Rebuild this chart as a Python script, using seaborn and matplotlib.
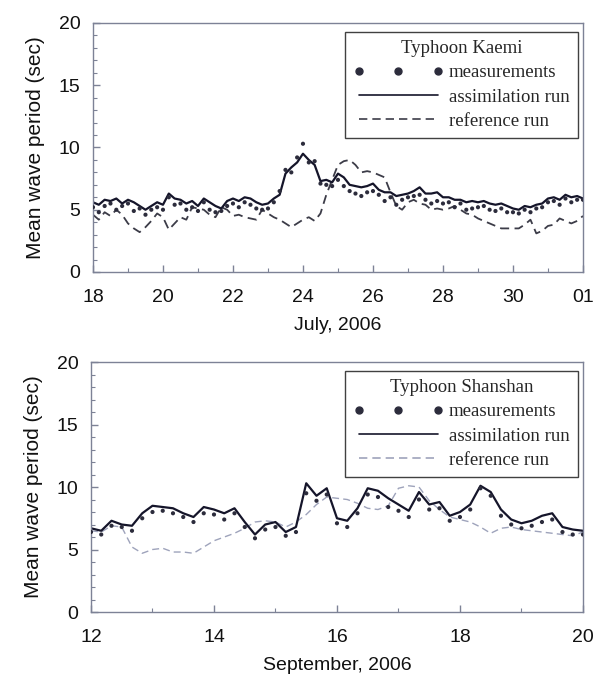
import numpy as np
import pandas as pd
import matplotlib
matplotlib.use("Agg")
import matplotlib.pyplot as plt
import seaborn as sns
from matplotlib.lines import Line2D
from matplotlib.ticker import MultipleLocator

# ---------------- data (4-hourly samples) ----------------
# Typhoon Kaemi, 18 July 00h .. 01 August 00h 2006
kaemi_start, kaemi_end, kaemi_per_day = 18, 32, 6
kaemi_assim = [
    5.6, 5.4, 5.8, 5.7, 5.9, 5.5,
    5.8, 5.6, 5.3, 5.0, 5.3, 5.6,
    5.4, 6.3, 5.9, 5.8, 5.5, 5.7,
    5.3, 5.9, 5.6, 5.3, 5.1, 5.7,
    5.9, 5.7, 6.0, 5.9, 5.6, 5.4,
    5.5, 5.9, 6.2, 7.9, 8.4, 8.8,
    9.5, 9.0, 8.6, 7.3, 7.4, 7.2,
    7.9, 7.6, 7.0, 6.9, 6.8, 6.9,
    7.1, 6.6, 6.4, 6.4, 6.1, 6.2,
    6.3, 6.5, 6.8, 6.3, 6.3, 6.4,
    6.0, 6.0, 5.8, 5.8, 5.6, 5.7,
    5.6, 5.7, 5.5, 5.4, 5.5, 5.3,
    5.1, 5.0, 5.3, 5.2, 5.4, 5.5,
    5.9, 6.0, 5.8, 6.2, 6.0, 6.1,
    5.9]
kaemi_meas = [
    5.2, 4.8, 5.3, 5.5, 5.0, 5.3,
    5.5, 4.9, 5.1, 4.6, 5.0, 5.2,
    5.0, 6.0, 5.4, 5.5, 5.0, 5.2,
    4.9, 5.6, 5.0, 4.8, 4.9, 5.3,
    5.5, 5.2, 5.6, 5.4, 5.1, 5.0,
    5.1, 5.6, 6.5, 8.2, 8.0, 9.2,
    10.3, 8.8, 8.9, 7.1, 7.0, 6.9,
    7.4, 6.9, 6.5, 6.3, 6.1, 6.4,
    6.5, 6.2, 5.7, 6.0, 5.4, 5.8,
    6.0, 6.1, 6.2, 5.8, 5.5, 5.7,
    5.5, 5.6, 5.2, 5.5, 5.0, 5.1,
    5.2, 5.3, 5.0, 4.9, 5.1, 4.8,
    4.8, 4.7, 5.0, 4.8, 5.1, 5.2,
    5.6, 5.7, 5.4, 5.9, 5.6, 5.8,
    5.8]
kaemi_ref = [
    4.6, 4.2, 4.8, 4.5, 5.0, 4.6,
    3.9, 3.5, 3.2, 3.6, 4.1, 4.7,
    4.4, 3.4, 3.9, 4.4, 4.2, 5.2,
    5.1, 5.0, 4.6, 4.4, 5.2, 5.0,
    4.5, 4.6, 4.4, 4.3, 4.2, 5.0,
    4.7, 4.4, 4.2, 3.9, 3.6, 3.9,
    4.2, 4.4, 4.1, 4.7, 6.2, 7.4,
    8.6, 8.9, 9.0, 8.6, 8.0, 8.1,
    8.0, 7.8, 7.6, 6.4, 5.3, 5.0,
    5.6, 5.8, 5.5, 5.4, 5.0, 5.1,
    5.0, 5.1, 5.3, 5.0, 4.7, 4.6,
    4.3, 4.1, 3.9, 3.7, 3.5, 3.5,
    3.5, 3.5, 3.8, 4.2, 3.1, 3.3,
    3.7, 3.8, 4.3, 4.1, 3.9, 4.1,
    4.5]
kaemi_tick_labels = ["18", "20", "22", "24", "26", "28", "30", "01"]

# Typhoon Shanshan, 12 .. 20 September 2006
shan_start, shan_end, shan_per_day = 12, 20, 6
shan_assim = [
    6.7, 6.5, 7.3, 7.0, 6.9, 7.9,
    8.5, 8.4, 8.3, 7.9, 7.6, 8.4,
    8.2, 7.9, 8.3, 7.2, 6.2, 7.0,
    7.2, 6.4, 6.8, 10.3, 9.3, 9.9,
    7.5, 7.3, 8.3, 9.9, 9.7, 9.1,
    8.6, 8.1, 9.6, 8.6, 8.8, 7.7,
    8.0, 8.6, 10.1, 9.6, 8.2, 7.4,
    7.1, 7.3, 7.7, 7.9, 6.8, 6.6,
    6.5]
shan_meas = [
    6.4, 6.2, 6.9, 6.8, 6.5, 7.5,
    8.0, 8.1, 7.9, 7.6, 7.2, 7.9,
    7.8, 7.4, 7.9, 6.8, 5.9, 6.6,
    6.8, 6.1, 6.4, 9.5, 8.9, 9.4,
    7.1, 6.8, 7.9, 9.4, 9.2, 8.4,
    8.1, 7.6, 9.0, 8.2, 8.3, 7.3,
    7.6, 8.2, 9.9, 9.3, 7.7, 7.0,
    6.7, 6.9, 7.2, 7.4, 6.4, 6.2,
    6.2]
shan_ref = [
    6.5, 6.4, 6.9, 6.8, 5.2, 4.7,
    5.0, 5.1, 4.8, 4.8, 4.7, 5.2,
    5.7, 6.0, 6.3, 6.7, 7.2, 7.3,
    7.2, 6.8, 7.2, 7.8, 8.6, 9.2,
    9.1, 9.0, 8.7, 8.3, 8.2, 8.5,
    9.9, 10.1, 10.0, 8.9, 8.2, 7.6,
    7.4, 7.2, 6.8, 6.3, 6.7, 6.8,
    6.6, 6.5, 6.4, 6.3, 6.2, 6.1,
    6.4]
shan_tick_labels = ["12", "14", "16", "18", "20"]

# ---------------- style ----------------
sns.set_theme(style="white")
plt.rcParams["font.family"] = ["Liberation Sans", "DejaVu Sans"]

AX_COL = "#7d8296"
ASSIM_COL = "#15152a"
MEAS_COL = "#2c2c3c"

fig = plt.figure(figsize=(6.01, 6.82), dpi=100)
ax1 = fig.add_axes([0.1547, 0.6012, 0.8153, 0.3651])
ax2 = fig.add_axes([0.1514, 0.1026, 0.8186, 0.3666])


def make_frame(start, per_day, assim, meas, ref):
    n = len(assim)
    t = start + np.arange(n) / per_day
    return pd.DataFrame({"time": t, "assim": assim, "meas": meas, "ref": ref})


def draw(ax, df, ref_col, ref_lw, title, xlab, xmin, xmax, ticklabels):
    sns.lineplot(data=df, x="time", y="ref", ax=ax, color=ref_col, lw=ref_lw,
                 dashes=False, linestyle=(0, (5, 3)))
    sns.lineplot(data=df, x="time", y="assim", ax=ax, color=ASSIM_COL, lw=1.6)
    sns.scatterplot(data=df, x="time", y="meas", ax=ax, color=MEAS_COL, s=9,
                    edgecolor="none", zorder=4)
    ax.set_xlim(xmin, xmax)
    ax.set_ylim(0, 20)
    ax.set_xticks(np.arange(xmin, xmax + 1, 2))
    ax.set_xticklabels(ticklabels)
    ax.set_yticks([0, 5, 10, 15, 20])
    ax.xaxis.set_minor_locator(MultipleLocator(1))
    ax.yaxis.set_minor_locator(MultipleLocator(1))
    ax.tick_params(which="major", direction="in", length=5, width=1, color=AX_COL,
                   labelsize=14, labelcolor="#111111", pad=9)
    ax.tick_params(axis="x", which="major", pad=12)
    ax.tick_params(which="minor", direction="in", length=3, width=0.8, color=AX_COL)
    ax.tick_params(bottom=True, left=True, top=False, right=False, which="both")
    for s in ax.spines.values():
        s.set_color(AX_COL)
        s.set_linewidth(1.0)
    ax.set_xlabel(xlab, fontsize=14, color="#111111", labelpad=8)
    ax.set_ylabel("Mean wave period (sec)", fontsize=15, color="#111111", labelpad=10)

    handles = [
        Line2D([], [], color=MEAS_COL, marker="o", ms=5, linestyle="none"),
        Line2D([], [], color=ASSIM_COL, lw=1.2),
        Line2D([], [], color=ref_col, lw=1.2, linestyle=(0, (5, 3))),
    ]
    leg = ax.legend(handles, ["measurements", "assimilation run", "reference run"],
                    title=title, loc="upper right", bbox_to_anchor=(0.99, 0.965),
                    borderaxespad=0.0,
                    numpoints=3, handlelength=4.8, handletextpad=0.3,
                    labelspacing=0.38, borderpad=0.45, fancybox=False, frameon=True,
                    prop={"family": "Liberation Serif", "size": 13.5})
    leg.get_title().set_fontfamily("Liberation Serif")
    leg.get_title().set_fontsize(13.5)
    leg.get_frame().set_edgecolor("#111111")
    leg.get_frame().set_linewidth(1.0)
    leg.get_frame().set_boxstyle("square", pad=0)


df1 = make_frame(kaemi_start, kaemi_per_day, kaemi_assim, kaemi_meas, kaemi_ref)
df2 = make_frame(shan_start, shan_per_day, shan_assim, shan_meas, shan_ref)

draw(ax1, df1, "#3c3c48", 1.3, "Typhoon Kaemi", "July, 2006",
     kaemi_start, kaemi_end, kaemi_tick_labels)
draw(ax2, df2, "#9ea3bb", 1.0, "Typhoon Shanshan", "September, 2006",
     shan_start, shan_end, shan_tick_labels)

fig.savefig("out.png", dpi=100)
